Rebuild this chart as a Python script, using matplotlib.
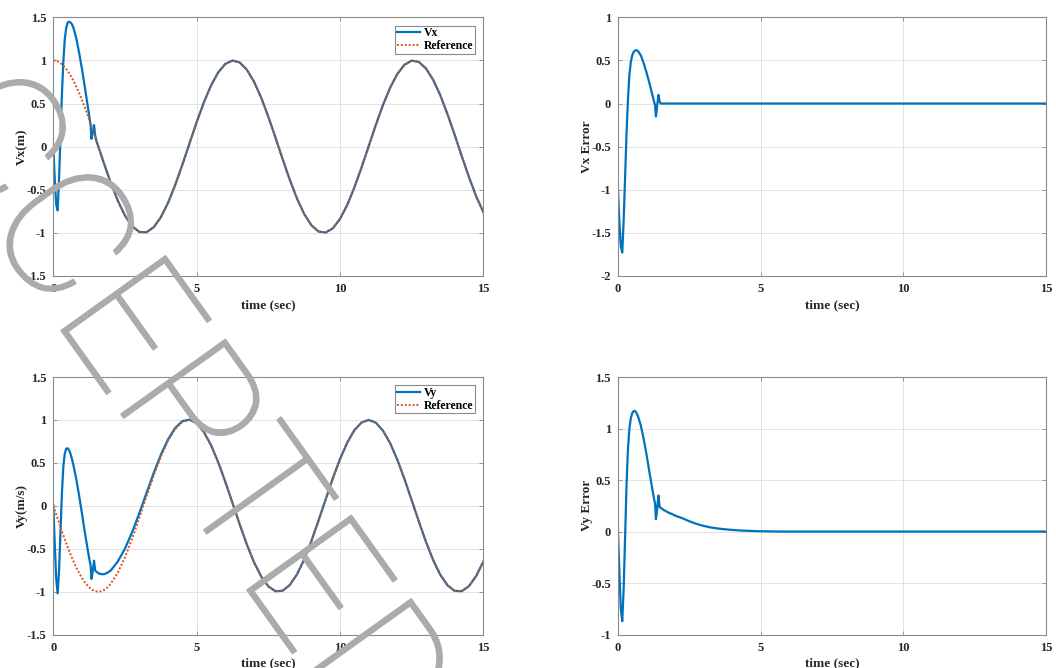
import matplotlib.pyplot as plt
import matplotlib.patheffects as pe
from matplotlib.ticker import FuncFormatter

plt.rcParams['font.family'] = ['Liberation Serif', 'DejaVu Serif']
plt.rcParams['font.weight'] = 'bold'
plt.rcParams['axes.unicode_minus'] = False

# time samples (sec), dense during the transient
t = [0, 0.05, 0.10, 0.15, 0.20, 0.25, 0.30, 0.35, 0.40, 0.45, 0.50, 0.55, 0.60, 0.65, 0.70,
     0.80, 0.90, 1.00, 1.10, 1.20, 1.25, 1.30, 1.33, 1.36, 1.39, 1.42, 1.46, 1.50,
     1.60, 1.70, 1.80, 1.90, 2.00,
     2.25, 2.50, 2.75, 3.00, 3.25, 3.50, 3.75, 4.00, 4.25, 4.50, 4.75, 5.00, 5.25, 5.50,
     5.75, 6.00, 6.25, 6.50, 6.75, 7.00, 7.25, 7.50, 7.75, 8.00, 8.25, 8.50, 8.75, 9.00,
     9.25, 9.50, 9.75, 10.00, 10.25, 10.50, 10.75, 11.00, 11.25, 11.50, 11.75, 12.00,
     12.25, 12.50, 12.75, 13.00, 13.25, 13.50, 13.75, 14.00, 14.25, 14.50, 14.75, 15.00]

vx_ref = [1.000, 0.999, 0.995, 0.989, 0.980, 0.969, 0.955, 0.939, 0.921, 0.900, 0.878, 0.853,
          0.825, 0.796, 0.765, 0.697, 0.622, 0.540, 0.454, 0.362, 0.315, 0.267, 0.238, 0.209,
          0.180, 0.150, 0.111, 0.071, -0.029, -0.129, -0.227, -0.323, -0.416,
          -0.628, -0.801, -0.924, -0.990, -0.994, -0.936, -0.820, -0.654, -0.446, -0.211,
          0.037, 0.284, 0.512, 0.709, 0.861, 0.960, 0.999, 0.977, 0.893, 0.754, 0.569, 0.347,
          0.104, -0.146, -0.386, -0.602, -0.781, -0.911, -0.985, -0.997, -0.948, -0.839,
          -0.679, -0.475, -0.243, 0.004, 0.252, 0.484, 0.685, 0.844, 0.950, 0.998, 0.983,
          0.907, 0.775, 0.595, 0.377, 0.137, -0.113, -0.355, -0.576, -0.760]

vy_ref = [0.000, -0.050, -0.100, -0.149, -0.199, -0.247, -0.296, -0.343, -0.389, -0.435, -0.479,
          -0.523, -0.565, -0.605, -0.644, -0.717, -0.783, -0.841, -0.891, -0.932, -0.949,
          -0.964, -0.971, -0.978, -0.984, -0.989, -0.994, -0.997, -1.000, -0.992, -0.974,
          -0.946, -0.909, -0.778, -0.598, -0.382, -0.141, 0.108, 0.351, 0.572, 0.757, 0.895,
          0.978, 0.999, 0.959, 0.859, 0.706, 0.509, 0.279, 0.033, -0.215, -0.450, -0.657,
          -0.823, -0.938, -0.995, -0.989, -0.922, -0.798, -0.625, -0.412, -0.173, 0.075,
          0.320, 0.544, 0.734, 0.880, 0.970, 1.000, 0.968, 0.875, 0.729, 0.537, 0.311, 0.066,
          -0.183, -0.421, -0.632, -0.804, -0.926, -0.991, -0.994, -0.935, -0.818, -0.650]

# measured velocities during the transient; afterwards they lie on the reference
vx_early = [0.00, -0.38, -0.67, -0.74, -0.37, 0.12, 0.61, 0.99, 1.25, 1.38, 1.44, 1.45, 1.44,
            1.42, 1.38, 1.26, 1.09, 0.90, 0.69, 0.47, 0.36, 0.25, 0.09, 0.14, 0.20, 0.25,
            0.13, 0.07]
vy_early = [0.00, -0.45, -0.85, -1.02, -0.75, -0.30, 0.15, 0.46, 0.61, 0.665, 0.67, 0.647,
            0.605, 0.545, 0.476, 0.313, 0.117, -0.091, -0.311, -0.512, -0.609, -0.694, -0.851,
            -0.798, -0.714, -0.639, -0.754, -0.767, -0.79, -0.797, -0.794, -0.776, -0.754,
            -0.648, -0.498, -0.307, -0.086, 0.148, 0.381, 0.594, 0.773, 0.906, 0.986, 1.004,
            0.962, 0.861, 0.707]
vx = vx_early + vx_ref[len(vx_early):]
vy = vy_early + vy_ref[len(vy_early):]

vx_err_early = [-1.00, -1.38, -1.66, -1.73, -1.35, -0.85, -0.35, 0.05, 0.33, 0.48, 0.56, 0.60,
                0.615, 0.62, 0.61, 0.56, 0.47, 0.36, 0.24, 0.11, 0.04, -0.02, -0.15, -0.07,
                0.02, 0.10, 0.02, 0.0]
vy_err_early = [0.00, -0.40, -0.75, -0.87, -0.55, -0.05, 0.45, 0.80, 1.00, 1.10, 1.15, 1.17,
                1.17, 1.15, 1.12, 1.03, 0.90, 0.75, 0.58, 0.42, 0.34, 0.27, 0.12, 0.18, 0.27,
                0.35, 0.24, 0.23, 0.21, 0.195, 0.18, 0.17, 0.155, 0.13, 0.10, 0.075, 0.055,
                0.04, 0.03, 0.022, 0.016, 0.011, 0.008, 0.005, 0.003, 0.002, 0.001]
vx_err = vx_err_early + [0.0] * (len(t) - len(vx_err_early))
vy_err = vy_err_early + [0.0] * (len(t) - len(vy_err_early))

blue = '#0072BD'
orange = '#D95319'
dots = (0, (1, 1))


def fmt(v, pos):
    return '%g' % round(v, 2) if v != 0 else '0'


def style(ax, ylim, ylabel):
    ax.set_xlim(0, 15)
    ax.set_ylim(*ylim)
    ax.set_xticks([0, 5, 10, 15])
    ax.yaxis.set_major_formatter(FuncFormatter(fmt))
    ax.grid(True, color='#e3e3e3', linewidth=0.7)
    ax.set_axisbelow(True)
    for s in ax.spines.values():
        s.set_color('#8a8a8a')
        s.set_linewidth(0.8)
    ax.tick_params(direction='in', length=3, width=0.6, color='#8a8a8a', top=True, right=True,
                   labelsize=9, labelcolor='#262626', pad=5)
    ax.set_xlabel('time (sec)', fontsize=9.5, fontweight='bold', color='#262626', labelpad=3)
    ax.set_ylabel(ylabel, fontsize=9.5, fontweight='bold', color='#262626', labelpad=-1)


fig = plt.figure(figsize=(10.56, 6.68), dpi=100)
ax1 = fig.add_axes([0.0505, 0.587, 0.4072, 0.387])
ax2 = fig.add_axes([0.5852, 0.587, 0.4053, 0.387])
ax3 = fig.add_axes([0.0505, 0.050, 0.4072, 0.3856])
ax4 = fig.add_axes([0.5852, 0.050, 0.4053, 0.3856])

ax1.plot(t, vx, color=blue, lw=1.6, label='Vx')
ax1.plot(t, vx_ref, color=orange, lw=1.4, ls=dots, label='Reference')
style(ax1, (-1.5, 1.5), 'Vx(m)')
ax1.set_yticks([-1.5, -1, -0.5, 0, 0.5, 1, 1.5])

ax2.plot(t, vx_err, color=blue, lw=1.6)
style(ax2, (-2, 1), 'Vx Error')
ax2.set_yticks([-2, -1.5, -1, -0.5, 0, 0.5, 1])

ax3.plot(t, vy, color=blue, lw=1.6, label='Vy')
ax3.plot(t, vy_ref, color=orange, lw=1.4, ls=dots, label='Reference')
style(ax3, (-1.5, 1.5), 'Vy(m/s)')
ax3.set_yticks([-1.5, -1, -0.5, 0, 0.5, 1, 1.5])

ax4.plot(t, vy_err, color=blue, lw=1.6)
style(ax4, (-1, 1.5), 'Vy Error')
ax4.set_yticks([-1, -0.5, 0, 0.5, 1, 1.5])

for ax in (ax1, ax3):
    leg = ax.legend(loc='upper right', fancybox=False, framealpha=1, edgecolor='#8a8a8a',
                    prop={'family': 'Liberation Serif', 'weight': 'bold', 'size': 8.5},
                    handlelength=2.0, handletextpad=0.3, borderpad=0.15, labelspacing=0.05,
                    borderaxespad=0.7)
    leg.get_frame().set_linewidth(0.8)

# diagonal "ACCEPTED" stamp across the page
fig.text(0.1028, 0.4061, 'ACCEPTED', rotation=-54.4, rotation_mode='anchor',
         ha='center', va='baseline', fontsize=130, color='#ababab',
         family=['Roboto', 'Open Sans', 'DejaVu Sans'], fontweight='light', zorder=10,
         path_effects=[pe.withStroke(linewidth=1.2, foreground='#ababab')])

fig.savefig('out.png', dpi=100)
plt.close(fig)
